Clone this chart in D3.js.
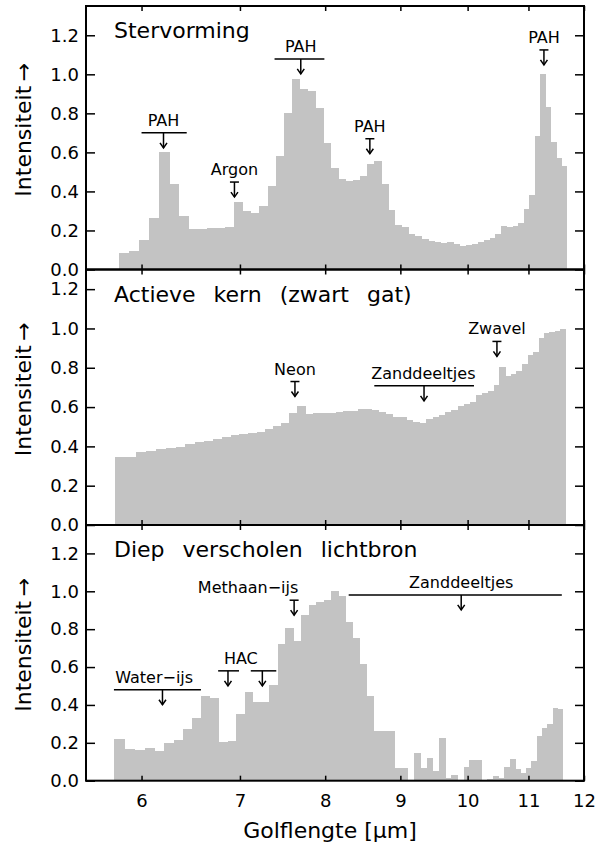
<!DOCTYPE html>
<html>
<head>
<meta charset="utf-8">
<script src="https://cdn.jsdelivr.net/npm/d3@7"></script>
<style>
  body { margin: 0; background: #fff; }
  text { font-family: "DejaVu Sans", sans-serif; fill: #000; }
</style>
</head>
<body>
<svg id="chart" width="601" height="848"></svg>
<script>
// wavelength ticks (micron) and intensity ticks
const xTicks = [6, 7, 8, 9, 10, 11, 12];
const yTicks = [0, 0.2, 0.4, 0.6, 0.8, 1.0, 1.2];

const panelTitles = ["Stervorming", "Actieve kern (zwart gat)", "Diep verscholen lichtbron"];

// first / last bin edge of each spectrum (micron)
const sterRange = [5.79, 11.68];
const kernRange = [5.76, 11.65];
const diepRange = [5.75, 11.61];

// binned intensities
const sterVals = [0.085, 0.094, 0.15, 0.266, 0.60, 0.44, 0.276, 0.208, 0.205, 0.211,
  0.215, 0.22, 0.344, 0.30, 0.29, 0.326, 0.43, 0.583, 0.80, 0.977,
  0.926, 0.917, 0.829, 0.648, 0.522, 0.462, 0.452, 0.457, 0.477, 0.542,
  0.554, 0.44, 0.303, 0.23, 0.22, 0.18, 0.17, 0.155, 0.145, 0.14,
  0.135, 0.14, 0.13, 0.12, 0.125, 0.13, 0.14, 0.15, 0.16, 0.18,
  0.225, 0.22, 0.225, 0.24, 0.31, 0.38, 0.685, 1.0, 0.83, 0.655,
  0.57, 0.53];

const kernVals = [0.345, 0.348, 0.37, 0.379, 0.387, 0.392, 0.399, 0.413, 0.421, 0.428,
  0.438, 0.447, 0.457, 0.464, 0.467, 0.472, 0.487, 0.504, 0.518, 0.572,
  0.603, 0.564, 0.572, 0.570, 0.572, 0.575, 0.58, 0.58, 0.589, 0.589,
  0.585, 0.577, 0.564, 0.552, 0.548, 0.535, 0.523, 0.518, 0.54, 0.552,
  0.56, 0.575, 0.586, 0.603, 0.615, 0.625, 0.662, 0.674, 0.68, 0.713,
  0.806, 0.759, 0.769, 0.786, 0.82, 0.866, 0.878, 0.951, 0.976, 0.981,
  0.985, 0.998];

const diepVals = [0.219, 0.168, 0.162, 0.171, 0.157, 0.20, 0.215, 0.272, 0.332, 0.448,
  0.436, 0.203, 0.21, 0.353, 0.466, 0.413, 0.415, 0.506, 0.722, 0.806,
  0.735, 0.873, 0.925, 0.946, 0.953, 1.0, 0.977, 0.838, 0.753, 0.618,
  0.445, 0.263, 0.265, 0.26, 0.069, 0.065, 0, 0.145, 0.069, 0.118,
  0.053, 0.228, 0.012, 0.03, 0, 0.07, 0.11, 0.107, 0, 0.009,
  0.025, 0.016, 0.074, 0.113, 0.06, 0.039, 0.065, 0.106, 0.236, 0.277,
  0.30, 0.386, 0.378];

// annotations: label centre tx, arrow ax, optional bar x1..x2, level y (intensity)
const sterNotes = [
  { text: "PAH", tx: 6.21, ax: 6.21, x1: 6.0, x2: 6.44, y: 0.70 },
  { text: "Argon", tx: 6.94, ax: 6.94, y: 0.448 },
  { text: "PAH", tx: 7.70, ax: 7.70, x1: 7.39, x2: 7.99, y: 1.079 },
  { text: "PAH", tx: 8.58, ax: 8.58, y: 0.67 },
  { text: "PAH", tx: 11.27, ax: 11.27, y: 1.125 }
];
const kernNotes = [
  { text: "Neon", tx: 7.63, ax: 7.63, y: 0.73 },
  { text: "Zanddeeltjes", tx: 9.33, ax: 9.34, x1: 8.64, x2: 10.1, y: 0.708 },
  { text: "Zwavel", tx: 10.47, ax: 10.47, y: 0.934 }
];
const diepNotes = [
  { text: "Water\u2212ijs", tx: 6.12, ax: 6.2, x1: 5.746, x2: 6.585, y: 0.48 },
  { text: "HAC", tx: 7.01, ax: 6.87, x1: 6.765, x2: 6.99, y: 0.58 },
  { text: "", tx: 7.25, ax: 7.25, x1: 7.12, x2: 7.41, y: 0.58 },
  { text: "Methaan\u2212ijs", tx: 7.09, ax: 7.62, y: 0.953 },
  { text: "Zanddeeltjes", tx: 9.90, ax: 9.90, x1: 8.30, x2: 11.59, y: 0.981 }
];

const panels = [
  { title: panelTitles[0], range: sterRange, vals: sterVals, notes: sterNotes, top: 6, bottom: 269.5, ymax: 1.35 },
  { title: panelTitles[1], range: kernRange, vals: kernVals, notes: kernNotes, top: 269.5, bottom: 525, ymax: 1.30 },
  { title: panelTitles[2], range: diepRange, vals: diepVals, notes: diepNotes, top: 525, bottom: 780.7, ymax: 1.35 }
];

const left = 86, right = 584;
const svg = d3.select("#chart");

const x = d3.scaleLog().domain([5.5, 12]).range([left, right]);

panels.forEach((p, pi) => {
  const y = d3.scaleLinear().domain([0, p.ymax]).range([p.bottom, p.top]);
  const g = svg.append("g").attr("class", "panel" + pi);
  const step = (p.range[1] - p.range[0]) / p.vals.length;

  // bars
  g.selectAll("rect.bar")
    .data(p.vals)
    .enter()
    .append("rect")
    .attr("class", "bar")
    .attr("x", (d, i) => x(p.range[0] + i * step))
    .attr("width", (d, i) => x(p.range[0] + (i + 1) * step) - x(p.range[0] + i * step) + 0.4)
    .attr("y", d => y(d))
    .attr("height", d => y(0) - y(d))
    .attr("fill", "#c3c3c3")
    .attr("shape-rendering", "crispEdges");

  // axes, ticks pointing inward
  const axL = g.append("g").attr("transform", "translate(" + left + ",0)")
    .call(d3.axisLeft(y).tickValues(yTicks).tickSize(-9).tickPadding(7).tickFormat(d3.format(".1f")));
  const axR = g.append("g").attr("transform", "translate(" + right + ",0)")
    .call(d3.axisRight(y).tickValues(yTicks).tickSize(-9).tickFormat(""));
  const axB = g.append("g").attr("transform", "translate(0," + p.bottom + ")")
    .call(d3.axisBottom(x).tickValues(xTicks).tickSize(-5).tickPadding(14)
      .tickFormat(pi === 2 ? d3.format("d") : ""));
  const axT = g.append("g").attr("transform", "translate(0," + p.top + ")")
    .call(d3.axisTop(x).tickValues(xTicks).tickSize(-5).tickFormat(""));

  [axL, axR, axB, axT].forEach(a => {
    a.select(".domain").remove();
    a.selectAll(".tick line").attr("stroke", "#000").attr("stroke-width", 1.5);
    a.selectAll(".tick text").attr("font-size", 18).attr("font-family", "DejaVu Sans").attr("fill", "#000");
  });

  // frame
  g.append("rect")
    .attr("x", left).attr("y", p.top)
    .attr("width", right - left).attr("height", p.bottom - p.top)
    .attr("fill", "none").attr("stroke", "#000").attr("stroke-width", 2);

  // panel title
  g.append("text")
    .attr("x", 114).attr("y", p.top + 32)
    .attr("font-size", 22)
    .attr("word-spacing", 11)
    .text(p.title);

  // y label
  g.append("text")
    .attr("transform", "translate(31," + ((p.top + p.bottom) / 2 - 8) + ") rotate(-90)")
    .attr("text-anchor", "middle")
    .attr("font-size", 22)
    .text("Intensiteit\u2009\u2192");

  // annotations
  p.notes.forEach(n => {
    const yb = y(n.y);
    const ax = x(n.ax);
    if (n.x1 != null) {
      g.append("line").attr("x1", x(n.x1)).attr("x2", x(n.x2))
        .attr("y1", yb).attr("y2", yb);
    } else {
      g.append("line").attr("x1", ax - 4.5).attr("x2", ax + 4.5)
        .attr("y1", yb).attr("y2", yb);
    }
    g.append("line").attr("x1", ax).attr("x2", ax).attr("y1", yb).attr("y2", yb + 15);
    g.append("path").attr("d", "M" + (ax - 3.5) + "," + (yb + 10) + "L" + ax + "," + (yb + 15) + "L" + (ax + 3.5) + "," + (yb + 10))
      .attr("fill", "none");
    if (n.text) {
      g.append("text").attr("x", x(n.tx)).attr("y", yb - 7)
        .attr("text-anchor", "middle").attr("font-size", 16)
        .text(n.text);
    }
  });
  g.selectAll("line, path").filter(function() { return !this.closest(".tick"); })
    .attr("stroke", "#000").attr("stroke-width", 1.5);
});

// x label
svg.append("text")
  .attr("x", 330).attr("y", 838)
  .attr("text-anchor", "middle")
  .attr("font-size", 22)
  .text("Golflengte [\u03bcm]");
</script>
</body>
</html>
